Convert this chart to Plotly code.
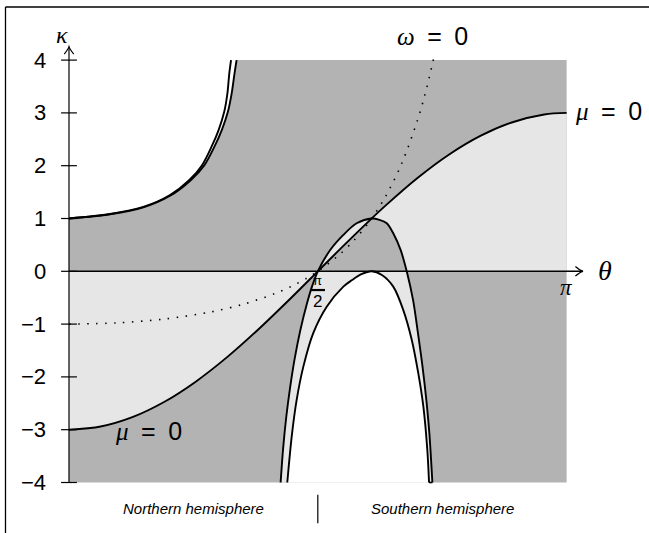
import plotly.graph_objects as go

# ---------------- data ----------------
theta_lim = [0.0, 3.1416]
kappa_lim = [-4.0, 4.0]

kappa_ticks = [-4, -3, -2, -1, 0, 1, 2, 3, 4]
kappa_tick_labels = ["\u22124", "\u22123", "\u22122", "\u22121", "0", "1", "2", "3", "4"]

# mu = 0 curve
theta_mu = [0.0, 0.2, 0.4, 0.6, 0.8, 1.0, 1.2, 1.4, 1.5708, 1.7, 1.8, 1.9, 2.0, 2.2, 2.4, 2.6, 2.8, 3.0, 3.1416]
kappa_mu = [-3.0, -2.94, -2.763, -2.476, -2.09, -1.621, -1.087, -0.51, 0.0, 0.387, 0.681, 0.97, 1.248, 1.766,
            2.212, 2.568, 2.823, 2.97, 3.0]

# omega = 0 curve (dotted)
theta_omega = [0.0, 0.3, 0.6, 0.9, 1.1, 1.3, 1.4, 1.5, 1.5708, 1.7, 1.8, 1.9, 2.0, 2.1, 2.2, 2.25, 2.31]
kappa_omega = [-1.0, -0.977, -0.904, -0.767, -0.624, -0.422, -0.291, -0.132, 0.0, 0.296, 0.588, 0.955, 1.425,
               2.039, 2.86, 3.38, 4.13]

# outer bump (peak at kappa = 1)
theta_outer = [1.336, 1.352, 1.372, 1.396, 1.425, 1.460, 1.503, 1.535, 1.5708, 1.648, 1.732, 1.816, 1.911,
               1.960, 2.006, 2.047, 2.094, 2.132, 2.172, 2.203, 2.232, 2.256, 2.275, 2.294]
kappa_outer = [-4.0, -3.35, -2.75, -2.2, -1.65, -1.12, -0.6, -0.28, 0.0, 0.40, 0.69, 0.91, 1.0,
               0.975, 0.91, 0.72, 0.40, 0.0, -0.54, -1.17, -1.81, -2.44, -3.07, -4.0]

# inner bump (peak at kappa = 0)
theta_inner = [1.378, 1.406, 1.437, 1.479, 1.542, 1.627, 1.732, 1.785, 1.850, 1.911, 1.975, 2.047, 2.110,
               2.164, 2.205, 2.237, 2.262, 2.273]
kappa_inner = [-4.0, -3.13, -2.44, -1.81, -1.17, -0.67, -0.29, -0.17, -0.05, 0.0, -0.07, -0.29, -0.73,
               -1.30, -1.93, -2.56, -3.38, -4.0]

# upper-left double curve
theta_sec_a = [0.0, 0.259, 0.469, 0.638, 0.760, 0.840, 0.900, 0.945, 0.980, 1.000, 1.012, 1.023]
kappa_sec_a = [1.0, 1.085, 1.22, 1.445, 1.73, 2.01, 2.36, 2.68, 3.02, 3.37, 3.75, 4.0]
theta_sec_b = [0.0, 0.259, 0.469, 0.638, 0.770, 0.855, 0.918, 0.965, 1.003, 1.027, 1.045, 1.058]
kappa_sec_b = [1.0, 1.08, 1.21, 1.43, 1.73, 2.01, 2.36, 2.68, 3.02, 3.37, 3.75, 4.0]

theta_peak = 1.911
theta_half = 1.5708

DARK = "#b3b3b3"
LIGHT = "#e6e6e6"
SANS = "Liberation Sans"
SERIF = "Liberation Serif"

fig = go.Figure()


def fill(x, y, color):
    fig.add_trace(go.Scatter(x=x, y=y, mode="lines", fill="toself", fillcolor=color,
                             line=dict(width=0, color=color), hoverinfo="skip", showlegend=False))


def curve(x, y, width=1.9, dash=None, shape="spline"):
    fig.add_trace(go.Scatter(x=x, y=y, mode="lines",
                             line=dict(color="black", width=width, dash=dash, shape=shape, smoothing=0.9),
                             hoverinfo="skip", showlegend=False))


# 1. dark background rectangle
fill([theta_lim[0], theta_lim[1], theta_lim[1], theta_lim[0]],
     [kappa_lim[0], kappa_lim[0], kappa_lim[1], kappa_lim[1]], DARK)
# 2. light region between mu = 0 and kappa = 0
fill(theta_mu + theta_mu[::-1], kappa_mu + [0.0] * len(theta_mu), LIGHT)
# 3. inside outer bump -> light
fill(theta_outer, kappa_outer, LIGHT)
# 4. inside outer bump, above 0 and below mu -> dark
dx = [t for t in theta_mu if theta_half <= t < theta_peak]
dy = [k for t, k in zip(theta_mu, kappa_mu) if theta_half <= t < theta_peak]
ox = [t for t, k in zip(theta_outer, kappa_outer) if t >= theta_peak and k >= 0]
oy = [k for t, k in zip(theta_outer, kappa_outer) if t >= theta_peak and k >= 0]
fill(dx + ox, dy + oy, DARK)
# 5. inside inner bump -> white
fill(theta_inner, kappa_inner, "white")
# 6. upper-left region -> white
fill(theta_sec_b + [theta_lim[0]], kappa_sec_b + [kappa_lim[1]], "white")

# curves
curve(theta_mu, kappa_mu)
curve(theta_omega, kappa_omega, width=1.6, dash="1.5px,7.5px")
curve(theta_outer, kappa_outer)
curve(theta_inner, kappa_inner)
curve([theta_inner[-1], theta_outer[-1]], [kappa_inner[-1], kappa_outer[-1]], width=1.6, shape="linear")
curve(theta_sec_a, kappa_sec_a)
curve(theta_sec_b, kappa_sec_b)

# ---------------- axes, ticks, arrows ----------------
x_tip = 3.245
y_tip = 4.254
shapes = [
    dict(type="line", x0=theta_lim[0], x1=x_tip, y0=0, y1=0, line=dict(color="black", width=1.6)),
    dict(type="line", x0=0, x1=0, y0=kappa_lim[0], y1=y_tip, line=dict(color="black", width=1.2)),
    dict(type="path", path=f"M {x_tip-0.048},0.09 Q {x_tip-0.02},0.015 {x_tip},0 Q {x_tip-0.02},-0.015 {x_tip-0.048},-0.09",
         line=dict(color="black", width=1.2)),
    dict(type="path", path=f"M -0.03,{y_tip-0.14} Q -0.005,{y_tip-0.05} 0,{y_tip} Q 0.005,{y_tip-0.05} 0.03,{y_tip-0.14}",
         line=dict(color="black", width=1.2)),
    # fraction bar of pi/2
    dict(type="line", x0=1.527, x1=1.616, y0=-0.355, y1=-0.355, line=dict(color="black", width=2.2)),
    # divider between hemispheres
    dict(type="line", x0=theta_half, x1=theta_half, y0=-4.23, y1=-4.77, line=dict(color="black", width=1.2)),
    # frame (clipped by the image)
    dict(type="line", xref="paper", yref="paper", x0=5.5 / 649, x1=5.5 / 649, y0=0, y1=1 - 7 / 533,
         line=dict(color="black", width=1.3)),
    dict(type="line", xref="paper", yref="paper", x0=5.5 / 649, x1=1, y0=1 - 7 / 533, y1=1 - 7 / 533,
         line=dict(color="black", width=1.3)),
]
for k in kappa_ticks:
    shapes.append(dict(type="line", x0=-0.05, x1=0.05, y0=k, y1=k, line=dict(color="black", width=1.2)))

annotations = []
for k, lab in zip(kappa_ticks, kappa_tick_labels):
    annotations.append(dict(x=-0.13, y=k, text=lab, showarrow=False, xanchor="right", yanchor="middle",
                            font=dict(family=SANS, size=22, color="black")))


def ann(x, y, text, size, family=SANS, xanchor="center", yanchor="middle"):
    annotations.append(dict(x=x, y=y, text=text, showarrow=False, xanchor=xanchor, yanchor=yanchor,
                            font=dict(family=family, size=size, color="black")))


def greek(ch):
    return f'<span style="font-family:{SERIF}"><i>{ch}</i></span>'


EQ0 = "\u2002=\u20020"
ann(-0.045, 4.47, "<i>κ</i>", 24, SERIF)
ann(3.385, 0.02, "<i>θ</i>", 28, SERIF)
ann(3.142, -0.30, "<i>π</i>", 23, SERIF)
ann(1.5708, -0.18, "π", 13, SANS)
ann(1.5708, -0.58, "2", 17, SANS)
ann(2.292, 4.45, greek("ω") + EQ0, 25)
ann(3.18, 3.03, greek("μ") + EQ0, 25, xanchor="left")
ann(0.50, -3.02, greek("μ") + EQ0, 25)
ann(0.789, -4.49, "<i>Northern hemisphere</i>", 15)
ann(2.361, -4.49, "<i>Southern hemisphere</i>", 15)

fig.update_layout(
    width=649, height=533,
    margin=dict(l=0, r=0, t=0, b=0),
    paper_bgcolor="white", plot_bgcolor="white",
    xaxis=dict(range=[-69 / 158.4, (649 - 69) / 158.4], visible=False, fixedrange=True),
    yaxis=dict(range=[(271.3 - 533) / 52.8, 271.3 / 52.8], visible=False, fixedrange=True),
    shapes=shapes, annotations=annotations, showlegend=False,
)

fig.write_html("out.html", config={"displayModeBar": False},
               post_script="document.body.style.margin='0';document.body.style.overflow='hidden';")
